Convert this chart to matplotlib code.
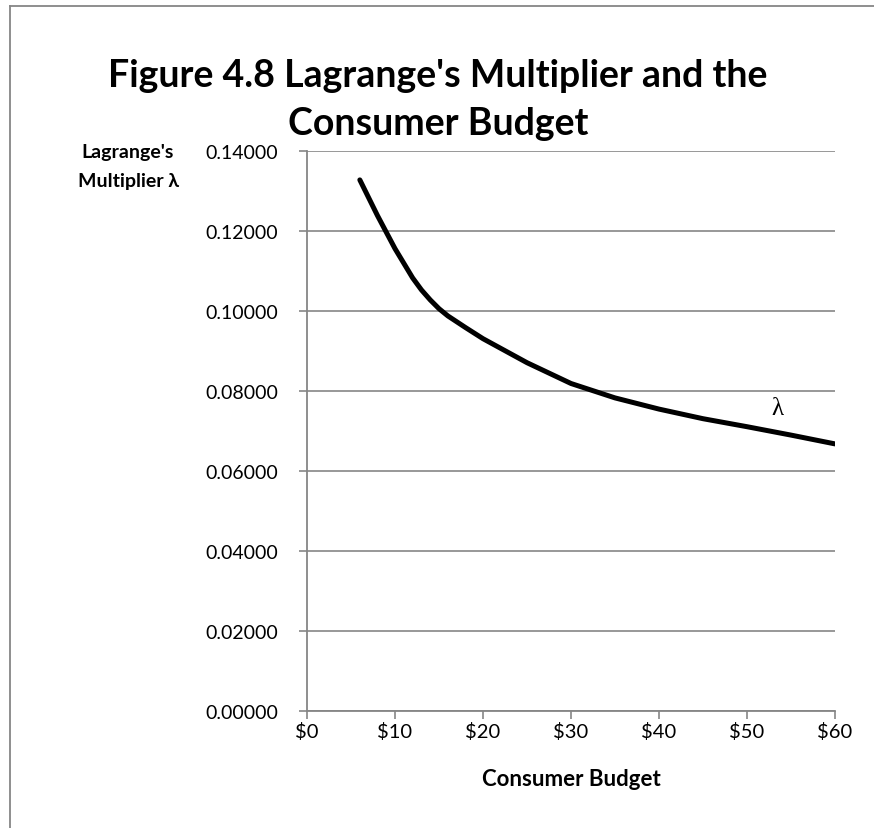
import numpy as np
import matplotlib.pyplot as plt
from matplotlib.lines import Line2D

# consumer budget ($) and lagrange multiplier
budget = [6, 8, 10, 12, 13, 14, 15, 16, 18, 20, 25, 30, 35, 40, 45, 50, 55, 60]
lam = [0.1327, 0.1238, 0.1155, 0.1082, 0.1052, 0.1027, 0.1005, 0.0987, 0.0958,
       0.0930, 0.0870, 0.0818, 0.0782, 0.0754, 0.0730, 0.0710, 0.0689, 0.0667]

x_ticks = [0, 10, 20, 30, 40, 50, 60]
y_ticks = [0.0, 0.02, 0.04, 0.06, 0.08, 0.10, 0.12, 0.14]

plt.rcParams['font.family'] = ['Lato', 'DejaVu Sans']
grey = '#868686'

fig = plt.figure(figsize=(8.74, 8.29), dpi=100)
ax = fig.add_axes([0.3513, 0.1415, 0.6041, 0.6755])

ax.plot(budget, lam, color='black', lw=3.6, solid_capstyle='round',
        solid_joinstyle='round', zorder=3)

ax.set_xlim(0, 60)
ax.set_ylim(0, 0.14)
ax.set_xticks(x_ticks)
ax.set_xticklabels(['$' + str(v) for v in x_ticks])
ax.set_yticks(y_ticks)
ax.set_yticklabels(['%.5f' % v for v in y_ticks])
ax.yaxis.grid(True, color=grey, lw=1.2)
ax.set_axisbelow(True)

for s in ['top', 'right']:
    ax.spines[s].set_visible(False)
for s in ['left', 'bottom']:
    ax.spines[s].set_color(grey)
    ax.spines[s].set_linewidth(1.3)
ax.tick_params(axis='both', colors=grey, length=6, width=1.2,
               labelsize=14, labelcolor='black')
ax.tick_params(axis='x', pad=2, labelsize=14.5)
ax.tick_params(axis='y', pad=15)

ax.text(53.5, 0.0758, 'λ', fontsize=18, family=['Liberation Serif'],
        ha='center', va='center')

ax.set_xlabel('Consumer Budget', fontsize=16, fontweight='bold', labelpad=20)

fig.text(0.1465, 0.7986, "Lagrange's\nMultiplier λ", fontsize=14,
         fontweight='bold', ha='center', va='center', linespacing=1.8)

fig.text(0.501, 0.8795, "Figure 4.8 Lagrange's Multiplier and the\nConsumer Budget",
         fontsize=27, fontweight='bold', ha='center', va='center', linespacing=1.5)

# chart frame (top and left edges visible)
fig.add_artist(Line2D([0.011, 1.0], [0.991, 0.991], color=grey, lw=1.3,
                      transform=fig.transFigure))
fig.add_artist(Line2D([0.011, 0.011], [0.0, 0.991], color=grey, lw=1.3,
                      transform=fig.transFigure))

fig.savefig('out.png', dpi=100)
